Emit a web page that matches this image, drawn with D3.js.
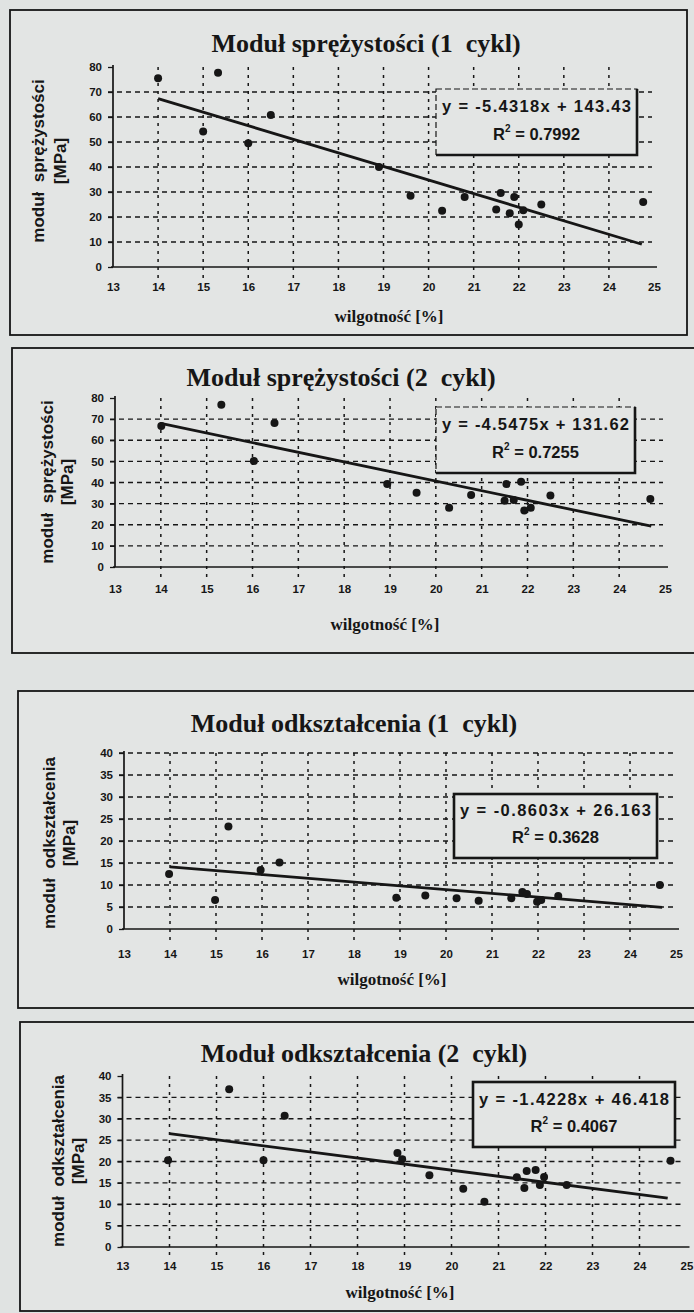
<!DOCTYPE html>
<html>
<head>
<meta charset="utf-8">
<script src="https://cdn.jsdelivr.net/npm/d3@7"></script>
<style>
  html, body { margin: 0; padding: 0; background: #e0e3e2; }
  svg { display: block; }
</style>
</head>
<body>
<svg id="page" width="694" height="1313"></svg>
<script>
// ── Data ────────────────────────────────────────────────────────
const X_TICKS     = [13, 14, 15, 16, 17, 18, 19, 20, 21, 22, 23, 24, 25];
const Y_TICKS_SPR = [0, 10, 20, 30, 40, 50, 60, 70, 80];
const Y_TICKS_ODK = [0, 5, 10, 15, 20, 25, 30, 35, 40];

// Moduł sprężystości, cykl 1
const SPR1_X = [14.0, 15.33, 15.0, 16.0, 16.5, 18.9, 19.6, 20.3, 20.8, 21.5, 21.6, 21.8, 21.9, 22.0, 22.1, 22.5, 24.76];
const SPR1_Y = [75.5, 77.7, 54.2, 49.5, 60.8, 40.0, 28.5, 22.5, 28.0, 23.0, 29.6, 21.5, 28.0, 17.0, 22.7, 25.0, 26.0];
const SPR1_FIT = [-5.4318, 143.43, 0.7992];   // slope, intercept, R²
const SPR1_FIT_X = [14, 24.73];

// Moduł sprężystości, cykl 2
const SPR2_X = [14.01, 15.32, 16.48, 16.03, 18.94, 19.58, 20.29, 20.77, 21.54, 21.86, 21.5, 21.7, 21.93, 22.07, 22.5, 24.68];
const SPR2_Y = [66.8, 76.8, 68.2, 50.2, 39.3, 35.2, 28.0, 34.1, 39.3, 40.4, 31.4, 31.7, 26.7, 28.0, 33.8, 32.2];
const SPR2_FIT = [-4.5475, 131.62, 0.7255];
const SPR2_FIT_X = [14, 24.7];

// Moduł odkształcenia, cykl 1
const ODK1_X = [13.98, 14.98, 15.27, 15.97, 16.38, 18.92, 19.55, 20.23, 20.71, 21.42, 21.66, 21.76, 21.98, 22.07, 22.44, 24.65];
const ODK1_Y = [12.5, 6.6, 23.3, 13.4, 15.1, 7.1, 7.6, 7.0, 6.4, 7.0, 8.4, 7.95, 6.2, 6.6, 7.5, 10.0];
const ODK1_FIT = [-0.8603, 26.163, 0.3628];
const ODK1_FIT_X = [14, 24.7];

// Moduł odkształcenia, cykl 2
const ODK2_X = [13.97, 15.27, 16.0, 16.45, 18.85, 18.95, 19.53, 20.25, 20.7, 21.39, 21.55, 21.6, 21.79, 21.88, 21.97, 22.45, 24.66];
const ODK2_Y = [20.3, 36.9, 20.3, 30.7, 22.0, 20.5, 16.8, 13.6, 10.6, 16.3, 13.8, 17.8, 18.0, 14.5, 16.4, 14.5, 20.2];
const ODK2_FIT = [-1.4228, 46.418, 0.4067];
const ODK2_FIT_X = [14, 24.6];

// ── Layout (pixel positions of each framed chart on the scan) ───
const INK = '#161616';
const PANEL_BG = '#e3e5e4';
const SERIF = "'Liberation Serif','Times New Roman',serif";
const SANS  = "'Liberation Sans',Arial,sans-serif";

const PANELS = [
  {
    title: 'Moduł sprężystości (1  cykl)', yTitle: 'moduł  sprężystości',
    xs: SPR1_X, ys: SPR1_Y, fit: SPR1_FIT, fitX: SPR1_FIT_X, yTicks: Y_TICKS_SPR,
    box: { x: 10, y: 10, w: 677, h: 325 },
    plot: { x0: 113, x1: 654, y0: 267, y1: 67 },
    titleXY: [366, 52], yTitleX: [40, 62], yTitleY: 161, xTitleXY: [389, 322], xLabDy: 25,
    legend: { x: 436, y: 89, w: 201, h: 66, heavy: false },
    gridTop: false,
  },
  {
    title: 'Moduł sprężystości (2  cykl)', yTitle: 'moduł  sprężystości',
    xs: SPR2_X, ys: SPR2_Y, fit: SPR2_FIT, fitX: SPR2_FIT_X, yTicks: Y_TICKS_SPR,
    box: { x: 12, y: 348, w: 700, h: 305 },
    plot: { x0: 115, x1: 665, y0: 567, y1: 398 },
    titleXY: [341, 386], yTitleX: [49, 69], yTitleY: 482, xTitleXY: [385, 630], xLabDy: 27,
    legend: { x: 436, y: 407, w: 199, h: 66, heavy: false },
    gridTop: false,
  },
  {
    title: 'Moduł odkształcenia (1  cykl)', yTitle: 'moduł  odkształcenia',
    xs: ODK1_X, ys: ODK1_Y, fit: ODK1_FIT, fitX: ODK1_FIT_X, yTicks: Y_TICKS_ODK,
    box: { x: 18, y: 691, w: 700, h: 317 },
    plot: { x0: 124, x1: 676, y0: 929, y1: 753 },
    titleXY: [354, 732], yTitleX: [51, 71], yTitleY: 843, xTitleXY: [392, 985], xLabDy: 30,
    legend: { x: 454, y: 794, w: 203, h: 64, heavy: true },
    gridTop: true,
  },
  {
    title: 'Moduł odkształcenia (2  cykl)', yTitle: 'moduł  odkształcenia',
    xs: ODK2_X, ys: ODK2_Y, fit: ODK2_FIT, fitX: ODK2_FIT_X, yTicks: Y_TICKS_ODK,
    box: { x: 20, y: 1022, w: 700, h: 289 },
    plot: { x0: 122.5, x1: 686.5, y0: 1247, y1: 1076 },
    titleXY: [364, 1062], yTitleX: [60, 80], yTitleY: 1161, xTitleXY: [400, 1298], xLabDy: 24,
    legend: { x: 473, y: 1082, w: 202, h: 65, heavy: true },
    gridTop: false,
  },
];

const svg = d3.select('#page');

PANELS.forEach(p => {
  const g = svg.append('g');
  const yMax = p.yTicks[p.yTicks.length - 1];

  const x = d3.scaleLinear().domain([X_TICKS[0], X_TICKS[X_TICKS.length - 1]]).range([p.plot.x0, p.plot.x1]);
  const y = d3.scaleLinear().domain([0, yMax]).range([p.plot.y0, p.plot.y1]);

  // ── Frame ─────────────────────────────────────────────────────
  g.append('rect')
    .attr('x', p.box.x).attr('y', p.box.y).attr('width', p.box.w).attr('height', p.box.h)
    .attr('fill', PANEL_BG).attr('stroke', INK).attr('stroke-width', 1.8);

  // ── Title ─────────────────────────────────────────────────────
  g.append('text')
    .attr('x', p.titleXY[0]).attr('y', p.titleXY[1])
    .attr('text-anchor', 'middle')
    .attr('font-family', SERIF).attr('font-size', 26).attr('font-weight', 'bold')
    .attr('fill', INK).style('white-space', 'pre')
    .text(p.title);

  // ── Grid (dashed) ─────────────────────────────────────────────
  const hLines = p.yTicks.filter(v => v > 0 && (p.gridTop || v < yMax));
  g.selectAll(null).data(hLines).join('line')
    .attr('x1', x(X_TICKS[0]) - 5).attr('x2', x.range()[1] - 2)
    .attr('y1', d => y(d)).attr('y2', d => y(d))
    .attr('stroke', INK).attr('stroke-width', 1.4).attr('stroke-dasharray', '5,4');

  const vLines = X_TICKS.slice(1, -1);
  g.selectAll(null).data(vLines).join('line')
    .attr('x1', d => x(d)).attr('x2', d => x(d))
    .attr('y1', y(yMax)).attr('y2', y(0) + 12)
    .attr('stroke', INK).attr('stroke-width', 1.5).attr('stroke-dasharray', '3,5');

  // ── Axes ──────────────────────────────────────────────────────
  const gx = g.append('g').attr('transform', `translate(0,${y(0)})`)
    .call(d3.axisBottom(x).tickValues(X_TICKS).tickSize(0).tickPadding(p.xLabDy - 9).tickFormat(d3.format('d')));
  gx.select('.domain').remove();
  gx.selectAll('text')
    .attr('font-family', SANS).attr('font-size', 11.5).attr('font-weight', 'bold').attr('fill', INK);

  const gy = g.append('g').attr('transform', `translate(${x(X_TICKS[0])},0)`)
    .call(d3.axisLeft(y).tickValues(p.yTicks).tickSize(5).tickPadding(6).tickFormat(d3.format('d')));
  gy.select('.domain').remove();
  gy.selectAll('line').attr('stroke', INK).attr('stroke-width', 1.3);
  gy.selectAll('text')
    .attr('font-family', SANS).attr('font-size', 11.5).attr('font-weight', 'bold').attr('fill', INK);

  g.append('line')
    .attr('x1', x(X_TICKS[0])).attr('x2', x(X_TICKS[0]))
    .attr('y1', y(yMax) - 2).attr('y2', y(0))
    .attr('stroke', INK).attr('stroke-width', 1.7);
  g.append('line')
    .attr('x1', x(X_TICKS[0]) - 2).attr('x2', x.range()[1] + 3)
    .attr('y1', y(0)).attr('y2', y(0))
    .attr('stroke', INK).attr('stroke-width', 1.7);

  // ── Axis titles ───────────────────────────────────────────────
  [p.yTitle, '[MPa]'].forEach((t, i) => {
    g.append('text')
      .attr('transform', `translate(${p.yTitleX[i]},${p.yTitleY}) rotate(-90)`)
      .attr('text-anchor', 'middle').attr('dominant-baseline', 'middle')
      .attr('font-family', SANS).attr('font-size', 17).attr('font-weight', 'bold')
      .attr('fill', INK).style('white-space', 'pre')
      .text(t);
  });
  g.append('text')
    .attr('x', p.xTitleXY[0]).attr('y', p.xTitleXY[1])
    .attr('text-anchor', 'middle')
    .attr('font-family', SERIF).attr('font-size', 17).attr('font-weight', 'bold')
    .attr('fill', INK)
    .text('wilgotność [%]');

  // ── Linear trend ──────────────────────────────────────────────
  const [slope, intercept, r2] = p.fit;
  const line = d3.line().x(d => x(d)).y(d => y(slope * d + intercept));
  g.append('path')
    .attr('d', line(p.fitX))
    .attr('fill', 'none').attr('stroke', INK).attr('stroke-width', 2.8);

  // ── Points ────────────────────────────────────────────────────
  g.selectAll(null).data(d3.zip(p.xs, p.ys)).join('circle')
    .attr('cx', d => x(d[0])).attr('cy', d => y(d[1])).attr('r', 4)
    .attr('fill', INK);

  // ── Equation box ──────────────────────────────────────────────
  const L = p.legend;
  g.append('rect')
    .attr('x', L.x).attr('y', L.y).attr('width', L.w).attr('height', L.h)
    .attr('fill', PANEL_BG).attr('stroke', INK).attr('stroke-width', L.heavy ? 2.6 : 1.2)
    .attr('stroke-dasharray', L.heavy ? null : '6,3');
  if (!L.heavy) {
    g.append('path')
      .attr('d', `M${L.x + L.w},${L.y} V${L.y + L.h} H${L.x}`)
      .attr('fill', 'none').attr('stroke', INK).attr('stroke-width', 2.6);
  }
  const cx = L.x + L.w / 2;
  g.append('text')
    .attr('x', cx).attr('y', L.y + L.h * 0.28).attr('dominant-baseline', 'middle')
    .attr('text-anchor', 'middle')
    .attr('font-family', SANS).attr('font-size', 16.5).attr('font-weight', 'bold').attr('fill', INK)
    .attr('textLength', L.w - 12).attr('lengthAdjust', 'spacing')
    .text(`y = ${slope}x + ${intercept}`);
  const r = g.append('text')
    .attr('x', cx).attr('y', L.y + L.h * 0.71).attr('dominant-baseline', 'middle')
    .attr('text-anchor', 'middle')
    .attr('font-family', SANS).attr('font-size', 16.5).attr('font-weight', 'bold').attr('fill', INK);
  r.append('tspan').text('R');
  r.append('tspan').attr('font-size', 10).attr('dy', -7).text('2');
  r.append('tspan').attr('dy', 7).text(` = ${r2}`);
});
</script>
</body>
</html>
